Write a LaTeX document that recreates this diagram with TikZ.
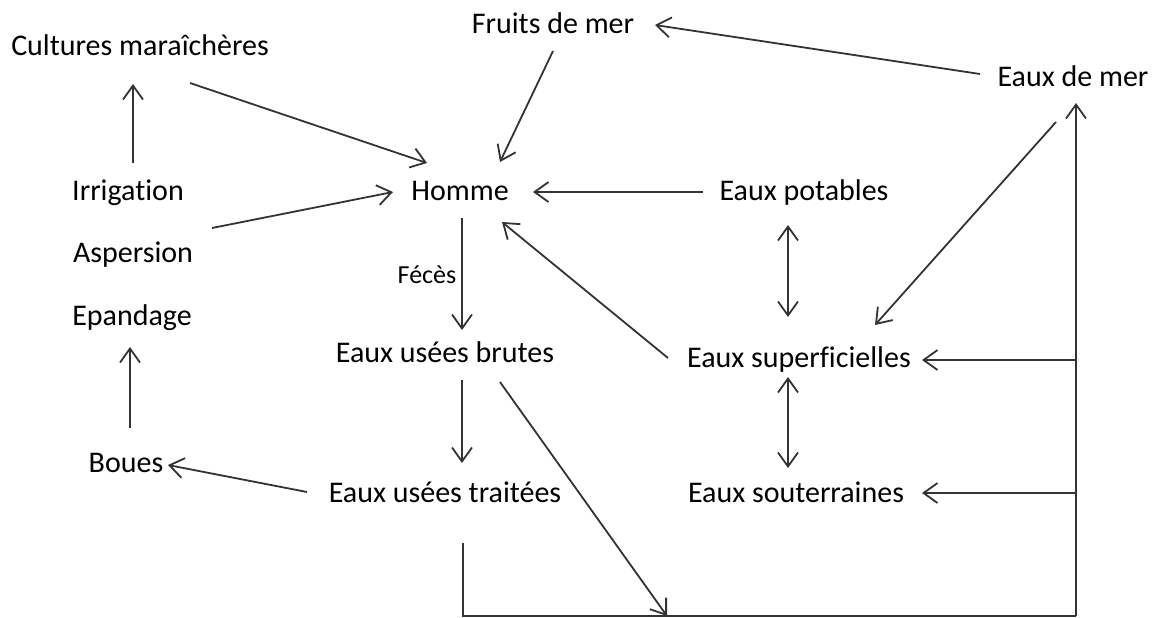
\documentclass[tikz,border=0pt]{standalone}
\usepackage{fontspec}
\setmainfont{Carlito}[Ligatures=NoCommon]
\usetikzlibrary{arrows.meta,calc}

\begin{document}
\begin{tikzpicture}[x=0.5pt,y=-0.5pt,
    lbl/.style={inner sep=0pt,text height=10pt,text depth=3pt,font=\fontsize{15}{17}\selectfont},
    arr/.style={line width=0.9pt,draw=black!80,-{Straight Barb[length=7pt,width=10pt]}},
    biarr/.style={line width=0.9pt,draw=black!80,{Straight Barb[length=7pt,width=10pt]}-{Straight Barb[length=7pt,width=10pt]}},
    ln/.style={line width=0.9pt,draw=black!80}]
      \useasboundingbox (0,0) rectangle (1163,617);
      \node[lbl] (cult)     at ( 140, 48) {Cultures maraîchères};
      \node[lbl] (fruits)   at ( 553, 26) {Fruits de mer};
      \node[lbl] (mer)      at (1073, 79) {Eaux de mer};
      \node[lbl] (irrig)    at ( 128,193) {Irrigation};
      \node[lbl] (aspers)   at ( 133,255) {Aspersion};
      \node[lbl] (epand)    at ( 132,318) {Epandage};
      \node[lbl] (boues)    at ( 126,465) {Boues};
      \node[lbl] (homme)    at ( 460,193) {Homme};
      \node[lbl,font=\fontsize{13}{15}\selectfont] (feces) at (427,276) {Fécès};
      \node[lbl] (potab)    at ( 804,193) {Eaux potables};
      \node[lbl] (brutes)   at ( 445,355) {Eaux usées brutes};
      \node[lbl] (traitees) at ( 445,495) {Eaux usées traitées};
      \node[lbl] (superf)   at ( 799,360) {Eaux superficielles};
      \node[lbl] (souterr)  at ( 796,495) {Eaux souterraines};
      \coordinate (depart)  at ( 463,616);
      \coordinate (jonct)   at ( 667,616);
      \coordinate (coin)    at (1076,616);
      \coordinate (brsup)   at (1076,360);
      \coordinate (brsout)  at (1076,493);
      \draw[arr] ($(irrig)+(5,-30)$)     -- ($(cult)+(-7,36)$);
      \draw[arr] ($(cult)+(50,35)$)      -- ($(homme)+(-33,-30)$);
      \draw[arr] ($(aspers)+(79,-27)$)   -- ($(homme)+(-67,-1)$);
      \draw[arr] ($(fruits)+(0,25)$)     -- ($(homme)+(40,-31)$);
      \draw[arr] ($(potab)+(-101,-1)$)   -- ($(homme)+(73,-1)$);
      \draw[arr] ($(mer)+(-93,-5)$)      -- ($(fruits)+(102,-1)$);
      \draw[arr] ($(mer)+(-17,43)$)      -- ($(superf)+(76,-35)$);
      \draw[biarr] ($(potab)+(-16,32)$)  -- ($(superf)+(-11,-43)$);
      \draw[biarr] ($(superf)+(-11,17)$) -- ($(souterr)+(-8,-27)$);
      \draw[arr] ($(superf)+(-131,-2)$)  -- ($(homme)+(42,29)$);
      \draw[arr] ($(homme)+(2,25)$)      -- ($(brutes)+(17,-25)$);
      \draw[arr] ($(brutes)+(17,25)$)    -- ($(traitees)+(17,-32)$);
      \draw[arr] ($(brutes)+(55,27)$)    -- (jonct);
      \draw[arr] ($(traitees)+(-138,-3)$) -- ($(boues)+(42,0)$);
      \draw[arr] ($(boues)+(4,-37)$)     -- ($(epand)+(-2,29)$);
      \draw[ln] ($(traitees)+(18,48)$) -- (depart) -- (coin);
      \draw[arr] (coin) -- ($(mer)+(3,24)$);
      \draw[arr] (brsup) -- ($(superf)+(123,0)$);
      \draw[arr] (brsout) -- ($(souterr)+(126,-2)$);
\end{tikzpicture}
\end{document}
